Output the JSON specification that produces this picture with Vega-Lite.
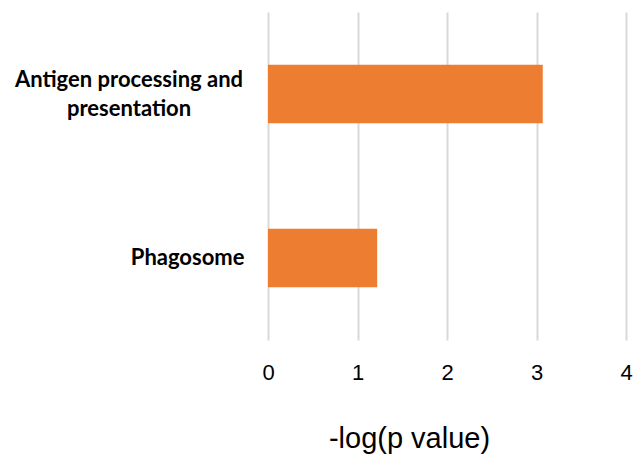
{
  "$schema": "https://vega.github.io/schema/vega-lite/v6.json",
  "autosize": {"type": "none"},
  "padding": {"left": 268, "top": 12, "right": 7, "bottom": 114},
  "width": 358,
  "height": 328,
  "background": "white",
  "data": {
    "values": [
      {"pathway": "Antigen processing and presentation", "score": 3.07},
      {"pathway": "Phagosome", "score": 1.22}
    ]
  },
  "mark": {"type": "bar", "color": "#ED7D31"},
  "encoding": {
    "y": {
      "field": "pathway",
      "type": "nominal",
      "sort": null,
      "scale": {"paddingInner": 0.643, "paddingOuter": 0.3215},
      "axis": {
        "title": null,
        "domain": false,
        "ticks": false,
        "grid": false,
        "labelFont": "Lato",
        "labelFontWeight": "bold",
        "labelFontSize": 22,
        "labelColor": "#000000",
        "labelAlign": {
          "condition": {"test": "datum.value == 'Antigen processing and presentation'", "value": "center"},
          "value": "right"
        },
        "labelPadding": {
          "condition": {"test": "datum.value == 'Antigen processing and presentation'", "value": 139.5},
          "value": 24
        },
        "labelOffset": {
          "condition": {"test": "datum.value == 'Antigen processing and presentation'", "value": -14.5},
          "value": 0
        },
        "labelLineHeight": 29,
        "labelLimit": 300,
        "labelExpr": "datum.value == 'Antigen processing and presentation' ? ['Antigen processing and', 'presentation'] : datum.value"
      }
    },
    "x": {
      "field": "score",
      "type": "quantitative",
      "scale": {"domain": [0, 4], "nice": false},
      "axis": {
        "title": "-log(p value)",
        "values": [0, 1, 2, 3, 4],
        "format": "d",
        "domain": false,
        "ticks": false,
        "grid": true,
        "gridColor": "#d9d9d9",
        "gridWidth": 2,
        "labelFont": "Liberation Sans",
        "labelFontSize": 22,
        "labelColor": "#000000",
        "labelPadding": 22,
        "labelFlush": false,
        "titleFont": "Liberation Sans",
        "titleFontWeight": "normal",
        "titleFontSize": 29,
        "titleColor": "#000000",
        "titleX": 141,
        "titleY": 107,
        "titleAlign": "center",
        "titleBaseline": "alphabetic"
      }
    }
  },
  "config": {"view": {"stroke": null}}
}
